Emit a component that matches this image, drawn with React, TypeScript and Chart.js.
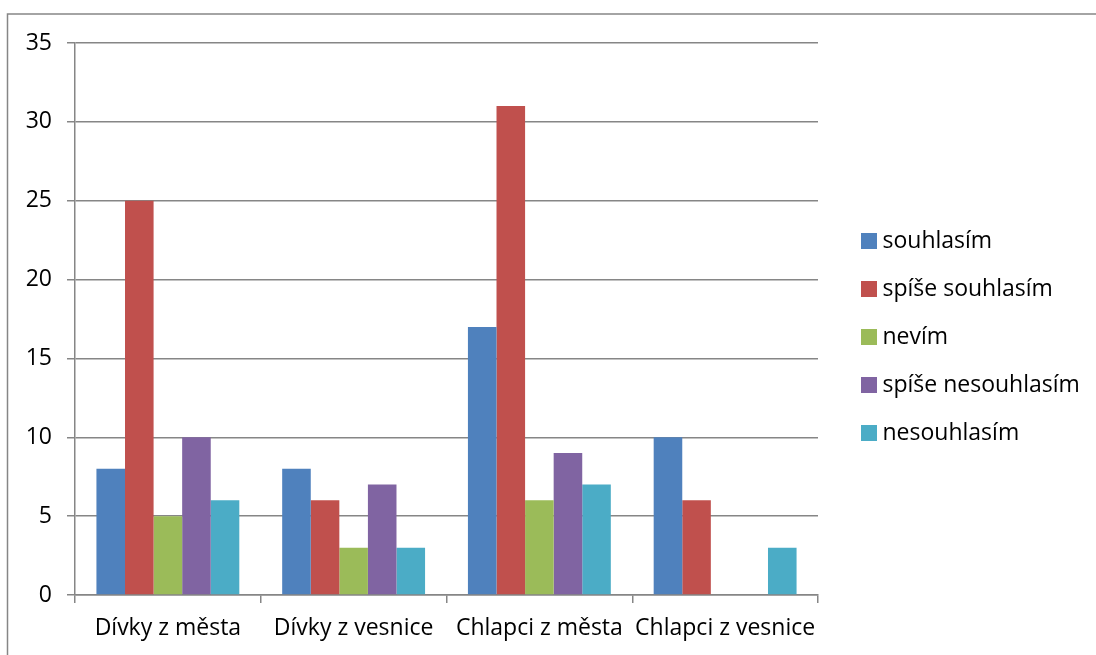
import React, { useEffect, useRef } from "react";
import { Chart, registerables } from "chart.js";

Chart.register(...registerables);

const categories = ["Dívky z města", "Dívky z vesnice", "Chlapci z města", "Chlapci z vesnice"];
const seriesNames = ["souhlasím", "spíše souhlasím", "nevím", "spíše nesouhlasím", "nesouhlasím"];
const souhlasim = [8, 8, 17, 10];
const spiseSouhlasim = [25, 6, 31, 6];
const nevim = [5, 3, 6, 0];
const spiseNesouhlasim = [10, 7, 9, 0];
const nesouhlasim = [6, 3, 7, 3];
const seriesColors = ["#4F81BD", "#C0504D", "#9BBB59", "#8064A2", "#4BACC6"];
const yMin = 0;
const yMax = 35;
const yStep = 5;

const FONT = "'Open Sans', 'Noto Sans', sans-serif";
const FONT_SIZE = 23;
const GRID = "#868686";

function makeMarker(color: string): HTMLCanvasElement {
  const c = document.createElement("canvas");
  c.width = 40;
  c.height = 16;
  const ctx = c.getContext("2d")!;
  ctx.fillStyle = color;
  ctx.fillRect(24, 0, 16, 16);
  return c;
}

export default function App() {
  const ref = useRef<HTMLCanvasElement>(null);

  useEffect(() => {
    if (!ref.current) return;
    const values = [souhlasim, spiseSouhlasim, nevim, spiseNesouhlasim, nesouhlasim];
    const markers = seriesColors.map(makeMarker);

    const m = document.createElement("canvas").getContext("2d")!;
    m.font = `${FONT_SIZE}px ${FONT}`;
    const maxText = Math.max(...seriesNames.map((s) => m.measureText(s).width));
    const legendPad = 25;
    const markerBox = 28;
    const legendWidth = legendPad + markerBox + FONT_SIZE / 2 + maxText;
    const padRight = Math.max(0, 1096 - 818 - legendWidth - 10);

    const borderPlugin = {
      id: "outerBorder",
      afterLayout(chart: any) {
        const lg = chart.legend;
        if (lg) {
          lg.top -= 12;
          lg.bottom -= 12;
        }
      },
      beforeDraw(chart: any) {
        const ctx = chart.ctx;
        ctx.save();
        ctx.strokeStyle = "#868686";
        ctx.lineWidth = 1.5;
        ctx.strokeRect(7.5, 14, 3000, 3000);
        ctx.restore();
      },
    };

    const chart = new Chart(ref.current, {
      type: "bar",
      data: {
        labels: categories,
        datasets: seriesNames.map((name, i) => ({
          label: name,
          data: values[i],
          backgroundColor: seriesColors[i],
          borderWidth: 0,
          barPercentage: 1,
          categoryPercentage: 5 / 6.5,
        })),
      },
      options: {
        animation: false,
        responsive: false,
        devicePixelRatio: 1,
        font: { family: FONT, size: FONT_SIZE },
        color: "#000",
        layout: { padding: { top: 43, bottom: 0, left: 0, right: padRight } },
        plugins: {
          tooltip: { enabled: false },
          legend: {
            position: "right",
            align: "center",
            labels: {
              color: "#000",
              font: { family: FONT, size: FONT_SIZE },
              usePointStyle: true,
              pointStyleWidth: markerBox,
              padding: legendPad,
              generateLabels: (c: any) =>
                (Chart.defaults.plugins.legend.labels.generateLabels as any)(c).map((l: any, i: number) => ({
                  ...l,
                  pointStyle: markers[i],
                })),
            },
          },
        },
        scales: {
          x: {
            offset: true,
            grid: {
              display: true,
              drawOnChartArea: false,
              drawTicks: true,
              tickLength: 8,
              color: GRID,
              lineWidth: 1.5,
              offset: true,
            },
            border: { display: true, color: GRID, width: 1.5 },
            ticks: {
              color: "#000",
              font: { family: FONT, size: FONT_SIZE },
              padding: 12,
              maxRotation: 0,
              autoSkip: false,
            },
            afterFit: (scale: any) => {
              scale.height = 60;
            },
          },
          y: {
            min: yMin,
            max: yMax,
            grid: {
              color: GRID,
              lineWidth: 1.5,
              drawTicks: true,
              tickLength: 8,
            },
            border: { display: true, color: GRID, width: 1.5 },
            ticks: {
              stepSize: yStep,
              color: "#000",
              font: { family: FONT, size: FONT_SIZE },
              padding: 15,
            },
            afterFit: (scale: any) => {
              scale.width = 75;
            },
          },
        },
      },
      plugins: [borderPlugin],
    } as any);

    return () => chart.destroy();
  }, []);

  return (
    <div style={{ position: "fixed", left: 0, top: 0, width: 1096, height: 655, overflow: "hidden", background: "#fff" }}>
      <canvas ref={ref} width={1096} height={655} style={{ display: "block", width: 1096, height: 655 }} />
    </div>
  );
}
